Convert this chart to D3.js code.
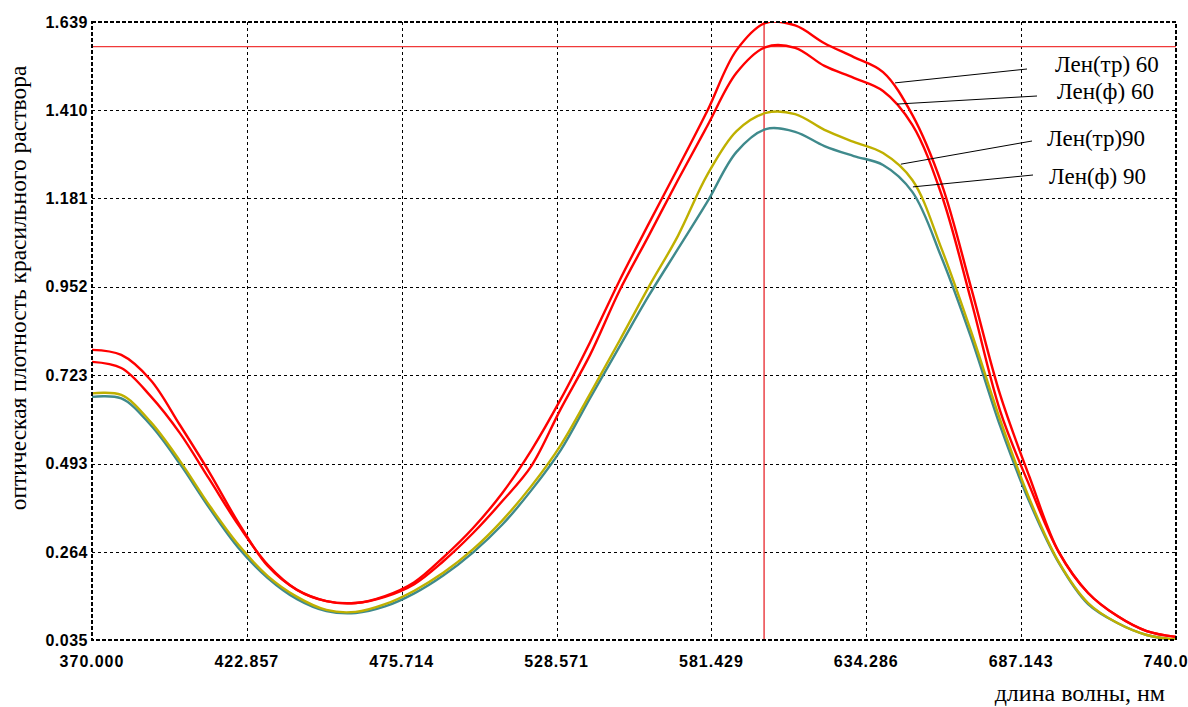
<!DOCTYPE html>
<html>
<head>
<meta charset="utf-8">
<script src="https://cdn.jsdelivr.net/npm/d3@7"></script>
<style>
	html, body { margin: 0; padding: 0; background: #fff; overflow: hidden; }
	#vis { width: 1188px; height: 707px; }
</style>
</head>
<body>
<div id="vis"></div>
<script>

// wavelength, nm
var wavelengths = [370, 380, 390, 400, 410, 420, 430, 440, 450, 460, 470, 480, 490, 500, 510, 520, 530, 540, 550, 560,
	570, 580, 590, 600, 610, 620, 630, 640, 650, 660, 670, 680, 690, 700, 710, 720, 730, 740];

// optical density of each dye bath
var lenTr60 = [0.788, 0.775, 0.710, 0.593, 0.471, 0.339, 0.227, 0.165, 0.136, 0.131, 0.149, 0.185, 0.250, 0.325, 0.416, 0.528, 0.660, 0.808, 0.967, 1.115,
	1.260, 1.408, 1.566, 1.637, 1.630, 1.584, 1.548, 1.509, 1.398, 1.219, 0.951, 0.671, 0.458, 0.263, 0.157, 0.097, 0.058, 0.043];
var lenF60 = [0.757, 0.741, 0.668, 0.572, 0.453, 0.333, 0.230, 0.165, 0.136, 0.131, 0.147, 0.180, 0.240, 0.312, 0.395, 0.487, 0.635, 0.775, 0.941, 1.084,
	1.229, 1.369, 1.507, 1.574, 1.572, 1.525, 1.494, 1.460, 1.372, 1.190, 0.918, 0.629, 0.435, 0.263, 0.157, 0.097, 0.058, 0.043];
var lenTr90 = [0.675, 0.671, 0.601, 0.500, 0.385, 0.282, 0.201, 0.147, 0.113, 0.108, 0.128, 0.163, 0.210, 0.270, 0.345, 0.435, 0.541, 0.674, 0.811, 0.951,
	1.084, 1.242, 1.356, 1.403, 1.400, 1.359, 1.328, 1.299, 1.229, 1.050, 0.837, 0.606, 0.401, 0.237, 0.131, 0.079, 0.048, 0.036];
var lenF90 = [0.666, 0.662, 0.593, 0.492, 0.378, 0.274, 0.196, 0.141, 0.110, 0.105, 0.122, 0.156, 0.203, 0.262, 0.334, 0.424, 0.528, 0.663, 0.796, 0.928,
	1.050, 1.172, 1.302, 1.361, 1.354, 1.317, 1.291, 1.268, 1.198, 1.027, 0.821, 0.590, 0.393, 0.235, 0.128, 0.079, 0.048, 0.035];

var seriesNames = ["Лен(тр) 60", "Лен(ф) 60", "Лен(тр)90", "Лен(ф) 90"];
var seriesValues = [lenTr60, lenF60, lenTr90, lenF90];

// where each leader line touches its curve (wavelength, density)
var leaderWavelengths = [644.1, 644.8, 646.1, 650.2];
var leaderDensities = [1.481, 1.426, 1.270, 1.211];

var xTicks = [370, 422.857, 475.714, 528.571, 581.429, 634.286, 687.143, 740];
var yTicks = [0.035, 0.264, 0.493, 0.723, 0.952, 1.181, 1.410, 1.639];

// cursor lines
var cursorWavelength = 599.4;
var cursorDensity = 1.575;

function drawChart() {

	var width = 1188, height = 707;
	var left = 92, right = 1176, top = 22, bottom = 640;

	var colors = ["#ff0000", "#ff0000", "#bfb000", "#3f8a8c"];
	var labelPos = [[1027, 69, 1055, 72], [1037, 96, 1057, 99], [1032, 141, 1047, 146], [1033, 175, 1049, 184]];

	var svg = d3.select("#vis").append("svg")
		.attr("width", width)
		.attr("height", height);

	svg.append("clipPath")
		.attr("id", "plotClip")
		.append("rect")
		.attr("x", left)
		.attr("y", top)
		.attr("width", right - left)
		.attr("height", bottom - top);

	var xScale = d3.scaleLinear()
		.domain([370, 740])
		.range([left, right]);

	var yScale = d3.scaleLinear()
		.domain([0.035, 1.639])
		.range([bottom, top]);

	var fmt = d3.format(".3f");

	// grid
	var grid = svg.append("g")
		.attr("stroke", "#000")
		.attr("stroke-width", 1)
		.attr("stroke-dasharray", "3,3");

	grid.selectAll(".vgrid")
		.data(xTicks.slice(1, -1))
		.enter()
		.append("line")
		.attr("class", "vgrid")
		.attr("x1", function (d) { return Math.round(xScale(d)) + 0.5; })
		.attr("x2", function (d) { return Math.round(xScale(d)) + 0.5; })
		.attr("y1", top)
		.attr("y2", bottom);

	grid.selectAll(".hgrid")
		.data(yTicks.slice(1, -1))
		.enter()
		.append("line")
		.attr("class", "hgrid")
		.attr("x1", left)
		.attr("x2", right)
		.attr("y1", function (d) { return Math.round(yScale(d)) + 0.5; })
		.attr("y2", function (d) { return Math.round(yScale(d)) + 0.5; });

	// cursor lines
	svg.append("line")
		.attr("x1", xScale(cursorWavelength))
		.attr("x2", xScale(cursorWavelength))
		.attr("y1", top)
		.attr("y2", bottom)
		.attr("stroke", "#e8262b")
		.attr("stroke-width", 1.3);

	svg.append("line")
		.attr("x1", left)
		.attr("x2", right)
		.attr("y1", yScale(cursorDensity))
		.attr("y2", yScale(cursorDensity))
		.attr("stroke", "#f03a3a")
		.attr("stroke-width", 1.3);

	// curves
	var line = d3.line()
		.x(function (d) { return xScale(d[0]); })
		.y(function (d) { return yScale(d[1]); })
		.curve(d3.curveCatmullRom.alpha(0.5));

	var curves = svg.append("g").attr("clip-path", "url(#plotClip)");

	var order = [3, 2, 1, 0];
	order.forEach(function (i) {
		var pts = wavelengths.map(function (w, j) { return [w, seriesValues[i][j]]; });
		curves.append("path")
			.datum(pts)
			.attr("d", line)
			.attr("fill", "none")
			.attr("stroke", colors[i])
			.attr("stroke-width", 2.4)
			.attr("stroke-linejoin", "round");
	});

	// frame
	svg.append("rect")
		.attr("x", left)
		.attr("y", top)
		.attr("width", right - left)
		.attr("height", bottom - top)
		.attr("fill", "none")
		.attr("stroke", "#000")
		.attr("stroke-width", 2)
		.attr("stroke-dasharray", "4,2");

	// tick labels
	svg.selectAll(".ylabel")
		.data(yTicks)
		.enter()
		.append("text")
		.attr("class", "ylabel")
		.attr("x", 88)
		.attr("y", function (d) { return yScale(d); })
		.attr("dy", "0.36em")
		.attr("text-anchor", "end")
		.style("font", "bold 16px 'Liberation Sans', Arial, sans-serif")
		.style("letter-spacing", "0.5px")
		.text(function (d) { return fmt(d); });

	svg.selectAll(".xlabel")
		.data(xTicks)
		.enter()
		.append("text")
		.attr("class", "xlabel")
		.attr("x", function (d) { return xScale(d); })
		.attr("y", 667)
		.attr("text-anchor", "middle")
		.style("font", "bold 16px 'Liberation Sans', Arial, sans-serif")
		.style("letter-spacing", "1px")
		.text(function (d) { return fmt(d); });

	// axis titles
	svg.append("text")
		.attr("transform", "translate(26," + 288 + ") rotate(-90)")
		.attr("text-anchor", "middle")
		.style("font", "23.5px 'Liberation Serif', 'Times New Roman', serif")
		.text("оптическая плотность красильного раствора");

	svg.append("text")
		.attr("x", 1165)
		.attr("y", 701)
		.attr("text-anchor", "end")
		.style("font", "24px 'Liberation Serif', 'Times New Roman', serif")
		.text("длина волны, нм");

	// leaders and curve names
	seriesNames.forEach(function (name, i) {
		svg.append("line")
			.attr("x1", xScale(leaderWavelengths[i]))
			.attr("y1", yScale(leaderDensities[i]))
			.attr("x2", labelPos[i][0])
			.attr("y2", labelPos[i][1])
			.attr("stroke", "#000")
			.attr("stroke-width", 1);

		svg.append("text")
			.attr("x", labelPos[i][2])
			.attr("y", labelPos[i][3])
			.style("font", "23px 'Liberation Serif', 'Times New Roman', serif")
			.text(name);
	});
}

drawChart();

</script>
</body>
</html>
